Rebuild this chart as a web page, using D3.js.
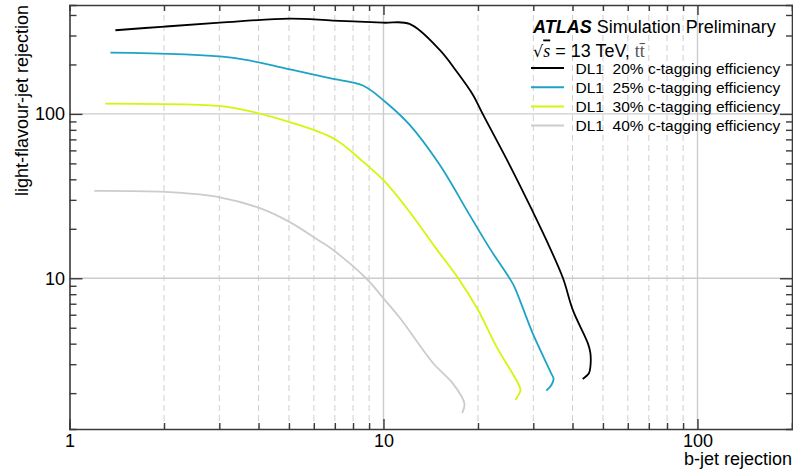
<!DOCTYPE html>
<html>
<head>
    <title>light-flavour-jet vs b-jet rejection</title>
    <script src="https://d3js.org/d3.v7.min.js"></script>
    <style>
        body { margin: 0; background: #fff; }
        text { font-family: "Liberation Sans", Arial, Helvetica, sans-serif; }
        .axis .domain { stroke: #3a3a3a; stroke-width: 1.6; }
        .axis line { stroke: #3a3a3a; stroke-width: 1.4; }
        .axis text { font-size: 18px; fill: #000; }
    </style>
</head>
<body>
    <div id="chart"></div>

    <script>
        // Curves (b-jet rejection, light-flavour-jet rejection), one per c-tagging working point
        var dl1_20 = [
            [1.40, 323], [2.01, 340], [3.01, 359], [5.0, 380], [6.9, 370], [9.96, 359],
            [12.1, 353], [15.1, 245], [17.1, 181], [19.3, 130], [20.7, 100], [25.2, 49],
            [29.9, 25.4], [33.0, 17.1], [37.3, 10], [40.1, 6.4], [44.8, 4.0], [45.6, 3.5],
            [45.6, 2.9], [45.1, 2.64], [43.1, 2.44]
        ];
        var dl1_25 = [
            [1.35, 236], [3.28, 220], [5.0, 187], [6.74, 165], [8.6, 149], [10.1, 119],
            [12.1, 86], [15.1, 49], [18.8, 24.3], [21.8, 15.2], [25.2, 10], [26.1, 8.9],
            [29.9, 4.6], [34.2, 2.64], [34.8, 2.45], [34.3, 2.25], [33.0, 2.07]
        ];
        var dl1_30 = [
            [1.30, 115.5], [2.60, 113.4], [3.32, 109], [5.0, 89.4], [7.0, 70.2], [8.6, 51.3],
            [10.1, 38.7], [12.1, 25.4], [14.7, 15.2], [17.3, 10], [20.0, 6.41], [22.9, 3.84],
            [26.8, 2.30], [27.3, 2.09], [26.3, 1.82]
        ];
        var dl1_40 = [
            [1.20, 34.0], [2.01, 33.5], [3.01, 31.1], [4.04, 26.7], [5.0, 22.1], [6.19, 17.1],
            [6.9, 14.9], [8.8, 10], [10.1, 7.38], [11.3, 5.71], [14.4, 3.04], [16.6, 2.30],
            [18.1, 1.73], [17.8, 1.51]
        ];

        var seriesNames = ['DL1  20% c-tagging efficiency', 'DL1  25% c-tagging efficiency',
                           'DL1  30% c-tagging efficiency', 'DL1  40% c-tagging efficiency'];
        var seriesColors = ['#000000', '#1ca3c6', '#d6f50a', '#cccccc'];
        var seriesData = [dl1_20, dl1_25, dl1_30, dl1_40];

        // Tick values
        var xMajor = [1, 10, 100];
        var xMinor = [2, 3, 4, 5, 6, 7, 8, 9, 20, 30, 40, 50, 60, 70, 80, 90];
        var yMajor = [10, 100];
        var yMinor = [2, 3, 4, 5, 6, 7, 8, 9, 20, 30, 40, 50, 60, 70, 80, 90, 200, 300, 400];

        var margin = { top: 5, right: 1, bottom: 46, left: 69.5 };
        var width = 793 - margin.left - margin.right;
        var height = 475 - margin.top - margin.bottom;

        var x = d3.scaleLog().domain([1, 200]).range([0, width]);
        var y = d3.scaleLog().domain([1.21, 460]).range([height, 0]);

        var svg = d3.select('#chart')
            .append('svg')
            .attr('width', 793)
            .attr('height', 475)
            .append('g')
            .attr('transform', 'translate(' + margin.left + ',' + margin.top + ')');

        // Grid: dashed at minor x values, solid at the decades
        svg.append('g').selectAll('line')
            .data(xMinor)
            .enter().append('line')
            .attr('x1', function(d) { return x(d); })
            .attr('x2', function(d) { return x(d); })
            .attr('y1', 0).attr('y2', height)
            .attr('stroke', '#cfcfcf').attr('stroke-width', 1)
            .attr('stroke-dasharray', '6,4');

        svg.append('g').selectAll('line')
            .data([10, 100])
            .enter().append('line')
            .attr('x1', function(d) { return x(d); })
            .attr('x2', function(d) { return x(d); })
            .attr('y1', 0).attr('y2', height)
            .attr('stroke', '#cccccc').attr('stroke-width', 1.4);

        svg.append('g').selectAll('line')
            .data(yMajor)
            .enter().append('line')
            .attr('x1', 0).attr('x2', width)
            .attr('y1', function(d) { return y(d); })
            .attr('y2', function(d) { return y(d); })
            .attr('stroke', '#cccccc').attr('stroke-width', 1.4);

        // Curves
        var line = d3.line()
            .x(function(d) { return x(d[0]); })
            .y(function(d) { return y(d[1]); })
            .curve(d3.curveCatmullRom.alpha(0.5));

        svg.selectAll('.curve')
            .data(seriesData)
            .enter().append('path')
            .attr('class', 'curve')
            .attr('fill', 'none')
            .attr('stroke', function(d, i) { return seriesColors[i]; })
            .attr('stroke-width', 1.8)
            .attr('stroke-linejoin', 'round')
            .attr('d', line);

        // Axes on all four sides, ticks pointing inwards
        var fmt = function(d) { return d3.format('d')(d); };

        svg.append('g').attr('class', 'axis')
            .attr('transform', 'translate(0,' + height + ')')
            .call(d3.axisBottom(x).tickValues(xMinor).tickSize(-6).tickFormat(''));
        svg.append('g').attr('class', 'axis')
            .attr('transform', 'translate(0,' + height + ')')
            .call(d3.axisBottom(x).tickValues(xMajor).tickSize(-10).tickPadding(5).tickFormat(fmt))
            .select('.domain').remove();

        svg.append('g').attr('class', 'axis')
            .call(d3.axisTop(x).tickValues(xMinor).tickSize(-6).tickFormat(''));
        svg.append('g').attr('class', 'axis')
            .call(d3.axisTop(x).tickValues([10, 100]).tickSize(-10).tickFormat(''))
            .select('.domain').remove();

        svg.append('g').attr('class', 'axis')
            .call(d3.axisLeft(y).tickValues(yMinor).tickSize(-7).tickFormat(''));
        svg.append('g').attr('class', 'axis')
            .call(d3.axisLeft(y).tickValues(yMajor).tickSize(-13).tickPadding(4.5).tickFormat(fmt))
            .select('.domain').remove();

        svg.append('g').attr('class', 'axis')
            .attr('transform', 'translate(' + width + ',0)')
            .call(d3.axisRight(y).tickValues(yMinor).tickSize(-6).tickFormat(''));
        svg.append('g').attr('class', 'axis')
            .attr('transform', 'translate(' + width + ',0)')
            .call(d3.axisRight(y).tickValues(yMajor).tickSize(-12).tickFormat(''))
            .select('.domain').remove();

        svg.selectAll('.axis text').attr('font-family', null);

        // Axis titles
        svg.append('text')
            .attr('x', width)
            .attr('y', height + 36)
            .attr('text-anchor', 'end')
            .style('font-size', '18px')
            .text('b-jet rejection');

        svg.append('text')
            .attr('transform', 'translate(' + (28 - margin.left) + ',0) rotate(-90)')
            .attr('text-anchor', 'end')
            .style('font-size', '18px')
            .text('light-flavour-jet rejection');

        // Labels and legend
        var lx = 533 - margin.left;
        var title = svg.append('text')
            .attr('x', lx)
            .attr('y', 33.3 - margin.top)
            .style('font-size', '18px');
        title.append('tspan').style('font-weight', 'bold').style('font-style', 'italic').text('ATLAS');
        title.append('tspan').text(' Simulation Preliminary');

        var energy = svg.append('text')
            .attr('x', lx)
            .attr('y', 56.5 - margin.top)
            .style('font-size', '18px');
        energy.append('tspan').style('font-family', '"DejaVu Serif", serif').style('font-size', '16px').text('\u221A');
        energy.append('tspan')
            .style('font-family', '"Liberation Serif", serif')
            .style('font-style', 'italic')
            .style('text-decoration', 'overline')
            .text('s');
        energy.append('tspan').text(' = 13 TeV, ');
        energy.append('tspan')
            .style('font-family', '"Liberation Serif", serif')
            .style('fill', '#555')
            .text('t\u0074\u0304');

        var legend = svg.append('g')
            .attr('transform', 'translate(' + (531 - margin.left) + ',' + (68 - margin.top) + ')');

        var rows = legend.selectAll('g')
            .data(seriesNames)
            .enter().append('g')
            .attr('transform', function(d, i) { return 'translate(0,' + (i * 19.2) + ')'; });

        rows.append('line')
            .attr('x1', 0).attr('x2', 33)
            .attr('y1', 0).attr('y2', 0)
            .attr('stroke', function(d, i) { return seriesColors[i]; })
            .attr('stroke-width', 2);

        rows.append('text')
            .attr('x', 44.5)
            .attr('y', 5.5)
            .style('font-size', '15.5px')
            .style('white-space', 'pre')
            .text(function(d) { return d; });
    </script>
</body>
</html>
